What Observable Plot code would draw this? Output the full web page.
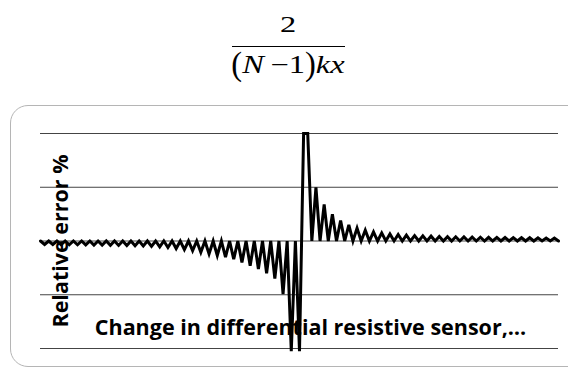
<!DOCTYPE html>
<html>
<head>
<meta charset="utf-8">
<script src="https://cdn.jsdelivr.net/npm/d3@7"></script>
<script src="https://cdn.jsdelivr.net/npm/@observablehq/plot@0.6"></script>
<style>
  html, body { margin: 0; padding: 0; background: #fff; overflow: hidden; }
  #page { position: relative; width: 568px; height: 374px; overflow: hidden; }
  #formula { position: absolute; left: 218px; top: 0; width: 140px; height: 105px; font-family: "Liberation Serif", "Times New Roman", serif; color: #000; text-align: center; }
  #num { position: absolute; left: 0; width: 140px; top: 12px; font-size: 24px; line-height: 1; transform: scaleX(1.35); transform-origin: 50% 50%; }
  #bar { position: absolute; left: 14px; width: 113px; top: 46px; height: 0; border-top: 1.3px solid #000; }
  #den { position: absolute; left: 0; width: 140px; top: 52px; font-size: 25px; line-height: 1; white-space: nowrap; transform: scaleX(1.3); transform-origin: 50% 50%; }
  #den i { font-style: italic; }
  .par { display: inline-block; transform: scale(1, 1.35); transform-origin: 50% 60%; }
  #box { position: absolute; left: 10px; top: 105px; width: 600px; height: 262px; border: 1px solid #b5b5b5; border-radius: 18px; box-sizing: border-box; }
  #chart { position: absolute; left: 0; top: 105px; }
</style>
</head>
<body>
<div id="page">
  <div id="formula">
    <div id="num">2</div>
    <div id="bar"></div>
    <div id="den"><span class="par">(</span><i>N</i>&#8201;&#8722;1<span class="par">)</span><i>kx</i></div>
  </div>
  <div id="box"></div>
  <div id="chart"></div>
</div>
<script>
// Left-hand teeth (negative relative error)
const leftPeaks = [
  -0.065, -0.065, -0.068, -0.07, -0.07, -0.072, -0.075, -0.077,
  -0.08, -0.082, -0.085, -0.088, -0.092, -0.1, -0.11, -0.12,
  -0.14, -0.16, -0.18, -0.21, -0.24, -0.27, -0.3, -0.34,
  -0.4, -0.46, -0.52, -0.6, -0.7, -0.99, -2.05, -2.05
];
// Flat top of the singularity (clipped at the axis maximum)
const centerTop = [2, 2];
// Right-hand teeth (positive relative error)
const rightPeaks = [
  1.0, 0.68, 0.5, 0.38, 0.3, 0.24, 0.2, 0.17, 0.15, 0.13,
  0.12, 0.11, 0.1, 0.095, 0.09, 0.085, 0.08, 0.078, 0.075, 0.072,
  0.07, 0.068, 0.066, 0.064, 0.062, 0.06, 0.06, 0.058, 0.056, 0.055
];
const gridValues = [-2, -1, 0, 1, 2];
const yLabel = "Relative error %";
const xLabel = "Change in differential resistive sensor,…";

const pts = [];
let i = 0;
leftPeaks.forEach(p => { pts.push({i: i++, v: 0}); pts.push({i: i++, v: p}); });
centerTop.forEach(v => pts.push({i: i++, v}));
pts.push({i: i++, v: 0});
rightPeaks.forEach(p => { pts.push({i: i++, v: p}); pts.push({i: i++, v: 0}); });
const n = pts.length;

const chart = Plot.plot({
  width: 568,
  height: 269,
  marginTop: 28,
  marginBottom: 26,
  marginLeft: 40,
  marginRight: 10,
  style: {background: "transparent", overflow: "visible"},
  x: {domain: [0, n - 1], axis: null},
  y: {domain: [-2, 2], axis: null},
  marks: [
    Plot.ruleY(gridValues, {stroke: "#444", strokeWidth: 1}),
    Plot.text([yLabel], {frameAnchor: "left", textAnchor: "middle", lineAnchor: "middle", dx: 21, rotate: -90, fontSize: 21.5, fontWeight: "bold", fontFamily: "Open Sans", fill: "#000"}),
    Plot.text([xLabel], {frameAnchor: "bottom", textAnchor: "middle", lineAnchor: "middle", dx: 11, dy: -20, fontSize: 21.5, fontWeight: "bold", fontFamily: "Open Sans", fill: "#000"}),
    Plot.line(pts, {x: "i", y: "v", stroke: "#000", strokeWidth: 3, strokeLinejoin: "miter", strokeMiterlimit: 4})
  ]
});
document.getElementById("chart").appendChild(chart);
</script>
</body>
</html>
